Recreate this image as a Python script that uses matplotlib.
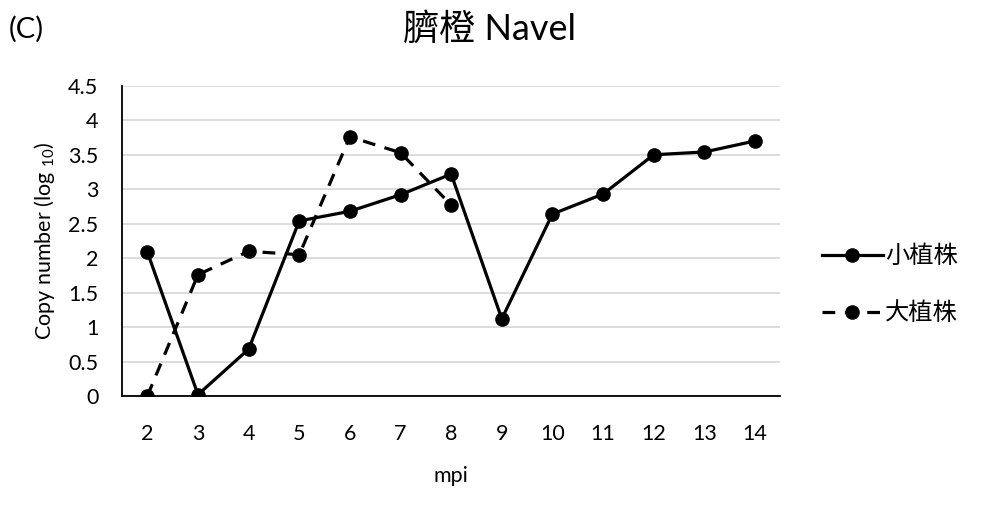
import matplotlib
matplotlib.use('Agg')
import matplotlib.pyplot as plt

plt.rcParams['font.family'] = ['Lato', 'Noto Sans CJK TC', 'DejaVu Sans']
plt.rcParams['mathtext.fontset'] = 'custom'
plt.rcParams['mathtext.rm'] = 'Lato'

mpi = [2, 3, 4, 5, 6, 7, 8, 9, 10, 11, 12, 13, 14]
small_plant = [2.09, 0.02, 0.68, 2.54, 2.68, 2.92, 3.22, 1.12, 2.64, 2.93, 3.50, 3.54, 3.70]
large_mpi = [2, 3, 4, 5, 6, 7, 8]
large_plant = [0.0, 1.76, 2.10, 2.05, 3.76, 3.53, 2.77]
yticks = [0, 0.5, 1, 1.5, 2, 2.5, 3, 3.5, 4, 4.5]

fig = plt.figure(figsize=(9.84, 5.17), dpi=100)
ax = fig.add_axes([0.124, 0.234, 0.669, 0.600])

pos = {m: i for i, m in enumerate(mpi)}
ax.plot([pos[m] for m in mpi], small_plant, '-', color='black', lw=2.3,
        marker='o', ms=9.5, label='小植株', zorder=3)
ax.plot([pos[m] for m in large_mpi], large_plant, '--', color='black', lw=2.3,
        dashes=(4, 3), marker='o', ms=9.5, label='大植株', zorder=3)

ax.set_xlim(-0.5, len(mpi) - 0.5)
ax.set_ylim(0, 4.5)
ax.set_xticks(range(len(mpi)))
ax.set_xticklabels([str(m) for m in mpi])
ax.set_yticks(yticks)
ax.set_yticklabels([f'{t:g}' for t in yticks])
ax.tick_params(length=0, labelsize=15.5)
ax.tick_params(axis='y', pad=17)
ax.tick_params(axis='x', pad=20)
ax.yaxis.grid(True, color='#d9d9d9', lw=1.3)
ax.set_axisbelow(True)
for s in ['top', 'right']:
    ax.spines[s].set_visible(False)
ax.spines['left'].set_linewidth(1.3)
ax.spines['bottom'].set_linewidth(1.3)

ax.set_xlabel('mpi', fontsize=15.5, labelpad=16)
ax.set_ylabel('Copy number (log $_{10}$)', fontsize=15.5, labelpad=8)

fig.text(0.497, 0.943, '臍橙 Navel', ha='center', va='center', fontsize=26)
fig.text(0.009, 0.943, '(C)', ha='left', va='center', fontsize=21)

ax.legend(loc='center left', bbox_to_anchor=(1.03, 0.36), frameon=False,
          fontsize=17.5, handlelength=2.5, handletextpad=0.1, labelspacing=1.4)

fig.savefig('out.png', dpi=100, facecolor='white')
